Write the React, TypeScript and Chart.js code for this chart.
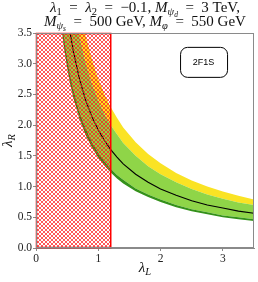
import React, { useEffect, useRef } from "react";
import { Chart, registerables } from "chart.js";
Chart.register(...registerables);

// ---- data ----
const lambdaL = [0.35, 0.4, 0.45, 0.5, 0.55, 0.6, 0.7, 0.8, 0.9, 1.0, 1.1, 1.2, 1.3, 1.4, 1.6, 1.8, 2.0, 2.25, 2.5, 2.75, 3.0, 3.25, 3.5];
const darkLow = [4.18, 3.66, 3.25, 2.93, 2.66, 2.44, 2.09, 1.83, 1.63, 1.47, 1.34, 1.23, 1.13, 1.05, 0.925, 0.83, 0.75, 0.665, 0.6, 0.55, 0.5, 0.47, 0.44];
const lightLow = [4.43, 3.88, 3.44, 3.1, 2.82, 2.58, 2.21, 1.94, 1.72, 1.55, 1.41, 1.29, 1.19, 1.11, 0.97, 0.87, 0.79, 0.7, 0.63, 0.58, 0.53, 0.5, 0.47];
const central = [5.49, 4.8, 4.27, 3.84, 3.49, 3.2, 2.74, 2.4, 2.13, 1.92, 1.75, 1.6, 1.48, 1.37, 1.2, 1.07, 0.96, 0.86, 0.77, 0.7, 0.65, 0.6, 0.565];
const greenTop = [6.86, 6.0, 5.33, 4.8, 4.36, 4.0, 3.43, 3.0, 2.67, 2.4, 2.18, 2.0, 1.85, 1.71, 1.5, 1.33, 1.2, 1.07, 0.96, 0.87, 0.8, 0.74, 0.7];
const yellowTop = [7.86, 6.88, 6.11, 5.5, 5.0, 4.58, 3.93, 3.44, 3.06, 2.75, 2.5, 2.29, 2.12, 1.96, 1.72, 1.53, 1.38, 1.22, 1.1, 1.0, 0.92, 0.85, 0.79];

const hatchX = [0, 1.2];
const hatchY = [0, 3.5];

const xTicks = [0, 1, 2, 3];
const yTicks = [0, 0.5, 1, 1.5, 2, 2.5, 3, 3.5];

const boxLabel = "2F1S";
const boxCenter = { x: 2.69, y: 3.03 };

const YELLOW = "#FAE324";
const LIGHTGREEN = "#8FD548";
const DARKGREEN = "#34911A";
const SERIF = "'Liberation Serif', 'DejaVu Serif', serif";

type Seg = { t: string; it?: boolean; lv?: number };
const EQ = "\u2002=\u2002";
const titleLine1: Seg[] = [
  { t: "λ", it: true }, { t: "1", lv: 1 }, { t: EQ },
  { t: "λ", it: true }, { t: "2", lv: 1 }, { t: EQ + "−0.1, " },
  { t: "M", it: true }, { t: "ψ", it: true, lv: 1 }, { t: "d", it: true, lv: 2 }, { t: EQ + "3 TeV," },
];
const titleLine2: Seg[] = [
  { t: "M", it: true }, { t: "ψ", it: true, lv: 1 }, { t: "s", it: true, lv: 2 }, { t: EQ + "500 GeV, " },
  { t: "M", it: true }, { t: "φ", it: true, lv: 1 }, { t: EQ + "550 GeV" },
];
const xLabel: Seg[] = [{ t: "λ", it: true }, { t: "L", it: true, lv: 1 }];
const yLabel: Seg[] = [{ t: "λ", it: true }, { t: "R", it: true, lv: 1 }];

const SCALE = [1, 0.7, 0.5];
const OFF = [0, 0.22, 0.36];

function drawRich(ctx: CanvasRenderingContext2D, segs: Seg[], cx: number, y: number, size: number, family: string) {
  const fontOf = (s: Seg) => `${s.it ? "italic " : ""}${size * SCALE[s.lv || 0]}px ${family}`;
  let total = 0;
  const widths: number[] = [];
  for (const s of segs) {
    ctx.font = fontOf(s);
    const w = ctx.measureText(s.t).width;
    widths.push(w);
    total += w;
  }
  let x = cx - total / 2;
  ctx.textAlign = "left";
  ctx.textBaseline = "alphabetic";
  segs.forEach((s, i) => {
    ctx.font = fontOf(s);
    ctx.fillText(s.t, x, y + OFF[s.lv || 0] * size);
    x += widths[i];
  });
}

function makePattern(): CanvasPattern | string {
  const c = document.createElement("canvas");
  c.width = 4;
  c.height = 4;
  const g = c.getContext("2d");
  if (!g) return "rgba(255,0,0,0.5)";
  g.fillStyle = "rgba(255,25,25,0.72)";
  for (let i = 0; i < 4; i++) {
    g.fillRect(i, i, 1, 1);
    if (3 - i !== i) g.fillRect(3 - i, i, 1, 1);
  }
  const p = g.createPattern(c, "repeat");
  return p || "rgba(255,0,0,0.5)";
}

const pts = (ys: number[]) => lambdaL.map((x, i) => ({ x, y: ys[i] }));
const band = (ys: number[], fill: any, color: string) => ({
  data: pts(ys),
  borderWidth: 0,
  borderColor: "rgba(0,0,0,0)",
  pointRadius: 0,
  fill,
  backgroundColor: color,
  tension: 0,
  order: 1,
});

export default function App() {
  const ref = useRef<HTMLCanvasElement | null>(null);
  useEffect(() => {
    document.body.style.margin = "0";
    const canvas = ref.current;
    if (!canvas) return;
    const pattern = makePattern();

    const overlay = {
      id: "overlay",
      afterDatasetsDraw(chart: any) {
        const { ctx, chartArea, scales } = chart;
        const xs = scales.x, ys = scales.y;
        // hatched region
        const x0 = xs.getPixelForValue(hatchX[0]);
        const x1 = xs.getPixelForValue(hatchX[1]);
        const y0 = ys.getPixelForValue(hatchY[0]);
        const y1 = ys.getPixelForValue(hatchY[1]);
        ctx.save();
        ctx.fillStyle = pattern;
        ctx.fillRect(Math.round(x0), Math.round(y1), Math.round(x1 - x0), Math.round(y0 - y1));
        ctx.strokeStyle = "#FF0000";
        ctx.lineWidth = 1.5;
        ctx.strokeRect(x0 + 0.5, y1 + 0.5, x1 - x0 - 0.5, y0 - y1 - 1);
        ctx.restore();

        // frame
        ctx.save();
        ctx.strokeStyle = "#8a8a8a";
        ctx.lineWidth = 1;
        ctx.strokeRect(Math.round(chartArea.left) + 0.5, Math.round(chartArea.top) + 0.5,
          Math.round(chartArea.right - chartArea.left) - 1, Math.round(chartArea.bottom - chartArea.top) - 1);
        ctx.restore();

        // label box
        const bx = xs.getPixelForValue(boxCenter.x);
        const by = ys.getPixelForValue(boxCenter.y);
        const bw = 47, bh = 30, r = 7;
        ctx.save();
        ctx.beginPath();
        ctx.roundRect(bx - bw / 2 + 0.5, by - bh / 2 + 0.5, bw, bh, r);
        ctx.fillStyle = "#fff";
        ctx.fill();
        ctx.strokeStyle = "#000";
        ctx.lineWidth = 1;
        ctx.stroke();
        ctx.fillStyle = "#000";
        ctx.font = "9px 'Liberation Sans', Arial, sans-serif";
        ctx.textAlign = "center";
        ctx.textBaseline = "middle";
        ctx.fillText(boxLabel, bx, by + 0.5);
        ctx.restore();
      },
      afterDraw(chart: any) {
        const { ctx, chartArea } = chart;
        const cx = (chartArea.left + chartArea.right) / 2;
        ctx.save();
        ctx.fillStyle = "#111";
        drawRich(ctx, titleLine1, cx, 11.5, 15, SERIF);
        drawRich(ctx, titleLine2, cx, 25.5, 15, SERIF);
        drawRich(ctx, xLabel, cx, 272, 15, SERIF);
        ctx.translate(12, (chartArea.top + chartArea.bottom) / 2);
        ctx.rotate(-Math.PI / 2);
        drawRich(ctx, yLabel, 0, 0, 15, SERIF);
        ctx.restore();
      },
    };

    const chart = new Chart(canvas, {
      type: "line",
      data: {
        datasets: [
          band(darkLow, false, DARKGREEN),
          band(lightLow, "-1", DARKGREEN),
          band(greenTop, "-1", LIGHTGREEN),
          band(yellowTop, "-1", YELLOW),
          { data: pts(central), borderWidth: 1.1, pointRadius: 0, fill: false, borderColor: "#000", tension: 0, order: 0 },
        ],
      } as any,
      options: {
        responsive: false,
        animation: false,
        devicePixelRatio: 1,
        layout: { padding: { left: 0, right: 4, top: 33, bottom: 0 } },
        plugins: { legend: { display: false }, tooltip: { enabled: false }, title: { display: false } },
        scales: {
          x: {
            type: "linear",
            min: 0,
            max: 3.5,
            afterFit: (s: any) => { s.height = 34; },
            afterBuildTicks: (s: any) => { s.ticks = xTicks.map((v) => ({ value: v })); },
            ticks: { font: { family: SERIF, size: 11.5 }, color: "#222", padding: 1, maxRotation: 0, callback: (v: any) => String(v) },
            grid: { display: true, drawOnChartArea: false, drawTicks: true, tickLength: 3, color: "#8a8a8a" },
            border: { display: true, color: "#8a8a8a" },
          },
          y: {
            type: "linear",
            min: 0,
            max: 3.5,
            afterFit: (s: any) => { s.width = 36; },
            afterBuildTicks: (s: any) => { s.ticks = yTicks.map((v) => ({ value: v })); },
            ticks: { font: { family: SERIF, size: 11.5 }, color: "#222", padding: 1, callback: (v: any) => Number(v).toFixed(1) },
            grid: { display: true, drawOnChartArea: false, drawTicks: true, tickLength: 3, color: "#8a8a8a" },
            border: { display: true, color: "#8a8a8a" },
          },
        },
      } as any,
      plugins: [overlay],
    });
    return () => chart.destroy();
  }, []);
  return (
    <div style={{ width: 258, height: 282 }}>
      <canvas ref={ref} width={258} height={282} style={{ width: 258, height: 282, display: "block" }} />
    </div>
  );
}
